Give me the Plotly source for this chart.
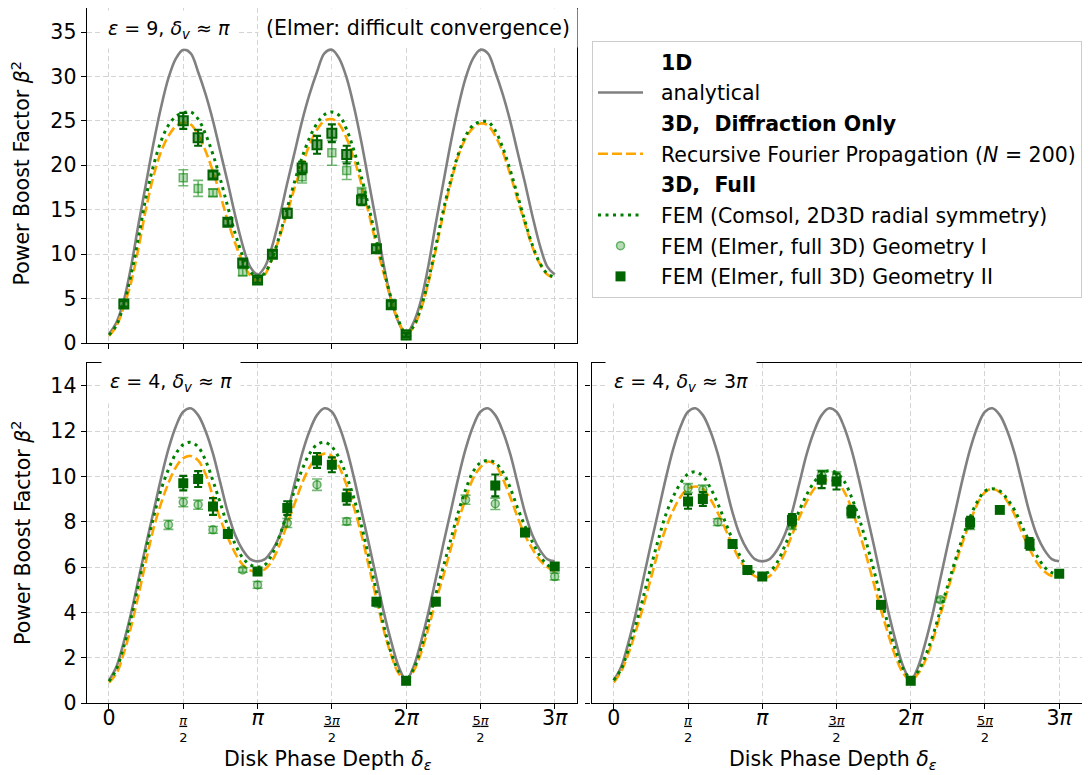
import plotly.graph_objects as go

W, H = 1090, 775
OFF = 8  # default page body margin of the html page

# ---------------- data (x in units of pi) ----------------
DELTA = [0.00, 0.05, 0.10, 0.15, 0.20, 0.25, 0.30, 0.35, 0.40, 0.45,
         0.50, 0.55, 0.60, 0.65, 0.70, 0.75, 0.80, 0.85, 0.90, 0.95,
         1.00, 1.05, 1.10, 1.15, 1.20, 1.25, 1.30, 1.35, 1.40, 1.45,
         1.50, 1.55, 1.60, 1.65, 1.70, 1.75, 1.80, 1.85, 1.90, 1.95,
         2.00, 2.05, 2.10, 2.15, 2.20, 2.25, 2.30, 2.35, 2.40, 2.45,
         2.50, 2.55, 2.60, 2.65, 2.70, 2.75, 2.80, 2.85, 2.90, 2.95, 3.00]

# eps = 9, delta_v ~ pi
GREY_E9 = [1.0, 2.3, 4.8, 8.7, 13.5, 18.0, 22.5, 26.5, 29.8, 32.0,
           33.0, 32.6, 30.5, 28.0, 25.0, 21.5, 18.0, 14.3, 11.0, 8.6,
           7.7, 8.6, 11.0, 14.3, 18.0, 21.5, 25.0, 28.0, 30.5, 32.6,
           33.0, 32.0, 29.8, 26.5, 22.5, 18.0, 13.5, 8.7, 4.8, 2.3,
           1.0, 2.3, 4.8, 8.7, 13.5, 18.0, 22.5, 26.5, 29.8, 32.0,
           33.0, 32.6, 30.5, 28.0, 25.0, 21.5, 18.0, 14.3, 11.0, 8.6, 7.7]
ORANGE_E9 = [0.8, 1.9, 4.1, 6.9, 10.8, 15.2, 18.8, 21.5, 23.3, 24.4,
             24.8, 24.6, 23.4, 21.6, 19.3, 16.6, 13.7, 11.2, 9.1, 7.6,
             7.0, 7.7, 9.6, 12.0, 14.7, 17.5, 20.0, 22.3, 24.0, 25.0,
             25.2, 24.6, 23.0, 20.7, 17.8, 14.5, 11.0, 7.8, 4.8, 2.4,
             1.0, 1.8, 3.8, 6.8, 10.5, 14.5, 18.0, 21.0, 23.0, 24.2,
             24.7, 24.5, 23.3, 21.5, 19.0, 16.2, 13.4, 10.8, 8.9, 7.7, 7.3]
GREEN_E9 = [0.9, 2.0, 4.4, 7.8, 12.0, 16.5, 20.0, 22.7, 24.5, 25.5,
            25.9, 26.0, 25.2, 23.5, 21.2, 18.4, 15.3, 12.3, 9.8, 8.1,
            7.3, 7.9, 9.6, 12.2, 15.2, 18.2, 20.9, 23.1, 24.7, 25.7,
            26.0, 25.6, 24.0, 21.6, 18.6, 15.2, 11.6, 8.2, 5.0, 2.5,
            1.0, 1.9, 4.0, 7.1, 10.9, 14.9, 18.3, 21.2, 23.3, 24.5,
            24.9, 24.9, 23.9, 22.0, 19.5, 16.6, 13.7, 11.0, 9.0, 7.8, 7.4]
E9_G2_X = [0.1, 0.5, 0.6, 0.7, 0.8, 0.9, 1.0, 1.1, 1.2, 1.3, 1.4, 1.5, 1.6, 1.7, 1.8, 1.9, 2.0]
E9_G2_Y = [4.4, 25.0, 23.1, 18.9, 13.6, 9.0, 7.1, 10.0, 14.6, 19.7, 22.3, 23.6, 21.2, 16.1, 10.6, 4.3, 0.9]
E9_G2_E = [0.3, 0.9, 0.9, 0.4, 0.4, 0.4, 0.3, 0.4, 0.5, 0.7, 1.0, 1.0, 1.0, 0.6, 0.4, 0.4, 0.2]
E9_G1_X = [0.5, 0.6, 0.7, 0.9, 1.3, 1.5, 1.6, 1.7, 1.9, 2.0]
E9_G1_Y = [18.6, 17.4, 16.9, 8.0, 18.7, 21.4, 19.4, 16.9, 4.4, 1.0]
E9_G1_E = [0.9, 0.9, 0.4, 0.4, 0.7, 1.4, 1.0, 0.6, 0.4, 0.2]

# eps = 4 (1D analytical identical in both lower panels)
GREY_E4 = [1.0, 1.6, 2.7, 4.0, 5.5, 7.0, 8.45, 9.9, 11.2, 12.2,
           12.85, 13.0, 12.7, 12.0, 11.0, 9.7, 8.4, 7.4, 6.75, 6.35,
           6.25, 6.35, 6.75, 7.4, 8.4, 9.7, 11.0, 12.0, 12.7, 13.0,
           12.85, 12.2, 11.2, 9.9, 8.45, 7.0, 5.5, 4.0, 2.7, 1.6,
           1.0, 1.6, 2.7, 4.0, 5.5, 7.0, 8.45, 9.9, 11.2, 12.2,
           12.85, 13.0, 12.7, 12.0, 11.0, 9.7, 8.4, 7.4, 6.75, 6.35, 6.25]

# eps = 4, delta_v ~ pi
ORANGE_BL = [0.9, 1.3, 2.2, 3.4, 4.8, 6.3, 7.7, 8.8, 9.7, 10.4,
             10.8, 10.9, 10.7, 10.1, 9.1, 8.1, 7.3, 6.6, 6.1, 5.85,
             5.8, 5.9, 6.3, 7.0, 7.9, 8.8, 9.7, 10.4, 10.85, 11.0,
             10.9, 10.4, 9.6, 8.6, 7.4, 6.0, 4.6, 3.2, 2.1, 1.3,
             1.0, 1.4, 2.2, 3.3, 4.5, 5.6, 6.8, 8.0, 9.0, 9.9,
             10.4, 10.65, 10.5, 9.9, 9.1, 8.2, 7.4, 6.8, 6.3, 6.0, 5.8]
GREEN_BL = [0.95, 1.5, 2.5, 3.8, 5.3, 6.8, 8.2, 9.4, 10.3, 11.0,
            11.4, 11.5, 11.3, 10.7, 9.8, 8.8, 7.8, 7.0, 6.4, 6.1,
            6.0, 6.1, 6.6, 7.4, 8.4, 9.4, 10.3, 11.0, 11.4, 11.5,
            11.3, 10.8, 10.0, 9.0, 7.8, 6.4, 4.9, 3.4, 2.2, 1.4,
            1.05, 1.5, 2.4, 3.6, 4.8, 6.0, 7.2, 8.4, 9.4, 10.2,
            10.6, 10.7, 10.6, 10.2, 9.5, 8.6, 7.8, 7.1, 6.5, 6.1, 5.9]
BL_G2_X = [0.5, 0.6, 0.7, 0.8, 1.0, 1.2, 1.4, 1.5, 1.6, 1.8, 2.0, 2.2, 2.6, 2.8, 3.0]
BL_G2_Y = [9.7, 9.88, 8.67, 7.46, 5.8, 8.6, 10.7, 10.51, 9.08, 4.47, 0.98, 4.47, 9.6, 7.52, 6.02]
BL_G2_E = [0.32, 0.35, 0.37, 0.1, 0.15, 0.3, 0.33, 0.33, 0.33, 0.1, 0.05, 0.1, 0.48, 0.15, 0.1]
BL_G1_X = [0.4, 0.5, 0.6, 0.7, 0.9, 1.0, 1.2, 1.4, 1.6, 1.8, 2.4, 2.6, 3.0]
BL_G1_Y = [7.86, 8.86, 8.75, 7.64, 5.87, 5.21, 7.94, 9.63, 8.01, 4.4, 8.97, 8.79, 5.58]
BL_G1_E = [0.2, 0.2, 0.2, 0.15, 0.1, 0.15, 0.2, 0.25, 0.15, 0.1, 0.2, 0.25, 0.15]

# eps = 4, delta_v ~ 3 pi
ORANGE_BR = [0.9, 1.4, 2.2, 3.2, 4.3, 5.5, 6.7, 7.7, 8.5, 9.1,
             9.45, 9.55, 9.45, 9.0, 8.4, 7.7, 6.95, 6.3, 5.85, 5.6,
             5.5, 5.6, 6.0, 6.6, 7.4, 8.2, 8.9, 9.45, 9.75, 9.85,
             9.75, 9.35, 8.6, 7.6, 6.5, 5.3, 4.1, 3.0, 2.0, 1.3,
             1.0, 1.3, 1.9, 2.8, 3.9, 5.0, 6.1, 7.1, 8.0, 8.8,
             9.3, 9.45, 9.3, 8.9, 8.3, 7.5, 6.8, 6.2, 5.8, 5.6, 5.6]
GREEN_BR = [1.0, 1.5, 2.4, 3.5, 4.7, 6.0, 7.2, 8.3, 9.1, 9.7,
            10.1, 10.2, 10.0, 9.5, 8.8, 8.0, 7.2, 6.5, 6.0, 5.75,
            5.7, 5.8, 6.2, 6.9, 7.7, 8.5, 9.2, 9.75, 10.1, 10.25,
            10.15, 9.8, 9.1, 8.2, 7.1, 5.9, 4.6, 3.4, 2.3, 1.5,
            1.1, 1.4, 2.1, 3.0, 4.1, 5.2, 6.3, 7.3, 8.2, 8.9,
            9.35, 9.45, 9.35, 9.0, 8.5, 7.8, 7.1, 6.5, 6.0, 5.75, 5.65]
BR_G2_X = [0.5, 0.6, 0.8, 0.9, 1.0, 1.2, 1.4, 1.5, 1.6, 1.8, 2.0, 2.4, 2.6, 2.8, 3.0]
BR_G2_Y = [8.89, 9.0, 7.01, 5.87, 5.58, 8.08, 9.85, 9.77, 8.45, 4.33, 0.98, 7.96, 8.52, 7.02, 5.70]
BR_G2_E = [0.32, 0.3, 0.1, 0.1, 0.1, 0.25, 0.37, 0.35, 0.25, 0.1, 0.05, 0.25, 0.05, 0.25, 0.1]
BR_G1_X = [0.5, 0.6, 0.7, 0.9, 1.2, 1.4, 1.5, 1.6, 1.8, 2.2, 2.4, 2.8]
BR_G1_Y = [9.48, 9.41, 7.98, 5.85, 7.86, 10.07, 10.0, 8.38, 4.33, 4.55, 7.86, 7.03]
BR_G1_E = [0.2, 0.2, 0.15, 0.1, 0.2, 0.2, 0.2, 0.2, 0.15, 0.1, 0.2, 0.2]

X_TICKS = [0, 0.5, 1, 1.5, 2, 2.5, 3]
X_TICK_LABELS = ["0", "π/2", "π", "3π/2", "2π", "5π/2", "3π"]
Y_TICKS_TOP = [0, 5, 10, 15, 20, 25, 30, 35]
Y_TICKS_BOT = [0, 2, 4, 6, 8, 10, 12, 14]

PAD = "\u00a0\u00a0"
LEGEND_NAMES = {
    "h1": PAD + "<b>1D</b>",
    "grey": PAD + "analytical",
    "h2": PAD + "<b>3D,\u00a0 Diffraction Only</b>",
    "orange": PAD + "Recursive Fourier Propagation (<i>N</i> = 200)",
    "h3": PAD + "<b>3D,\u00a0 Full</b>",
    "green": PAD + "FEM (Comsol, 2D3D radial symmetry)",
    "g1": PAD + "FEM (Elmer, full 3D) Geometry I",
    "g2": PAD + "FEM (Elmer, full 3D) Geometry II",
}
PANEL_LABELS = ["<i>ε</i> = 9, <i>δ</i><sub><i>v</i></sub> ≈ <i>π</i>",
                "<i>ε</i> = 4, <i>δ</i><sub><i>v</i></sub> ≈ <i>π</i>",
                "<i>ε</i> = 4, <i>δ</i><sub><i>v</i></sub> ≈ 3<i>π</i>"]
NOTE = "(Elmer: difficult convergence)"
Y_TITLE = "Power Boost Factor <i>β</i><sup>2</sup>"
X_TITLE = "Disk Phase Depth <i>δ</i><sub><i>ε</i></sub>"

# ---------------- styling ----------------
FONT = "DejaVu Sans"
FS = 20.5
FS_FRAC = 13
GREY = "#808080"
ORANGE = "#FFA500"
GREEN = "#008000"
DKGREEN = "#006400"
LT_FILL = "rgba(0,128,0,0.28)"
LT_LINE = "rgba(0,128,0,0.55)"


def fx(p):
    return min(1.0, max(0.0, (p - OFF) / W))


def fy(p):
    return min(1.0, max(0.0, 1 - (p - OFF) / H))


def italic_pi(s):
    return s.replace("π", "<i>π</i>")


def tick_html(lbl):
    if "/" in lbl:
        num, den = lbl.split("/")
        return "<u>%s</u><br>%s" % (italic_pi(num), den)
    return "<span style='font-size:%spx'>%s</span>" % (FS, italic_pi(lbl))


fig = go.Figure()

panels = [
    dict(xa="x", ya="y", grey=GREY_E9, orange=ORANGE_E9, green=GREEN_E9,
         g1=(E9_G1_X, E9_G1_Y, E9_G1_E), g2=(E9_G2_X, E9_G2_Y, E9_G2_E), g1sym="square", top=True),
    dict(xa="x2", ya="y2", grey=GREY_E4, orange=ORANGE_BL, green=GREEN_BL,
         g1=(BL_G1_X, BL_G1_Y, BL_G1_E), g2=(BL_G2_X, BL_G2_Y, BL_G2_E), g1sym="circle", top=False),
    dict(xa="x3", ya="y3", grey=GREY_E4, orange=ORANGE_BR, green=GREEN_BR,
         g1=(BR_G1_X, BR_G1_Y, BR_G1_E), g2=(BR_G2_X, BR_G2_Y, BR_G2_E), g1sym="circle", top=False),
]

# legend headers (no glyph)
for key, rank in (("h1", 1), ("h2", 3), ("h3", 5)):
    fig.add_trace(go.Scatter(x=[None], y=[None], mode="lines", name=LEGEND_NAMES[key],
                             line=dict(color="rgba(0,0,0,0)", width=1),
                             legendgroup=key, legendrank=rank, showlegend=True,
                             xaxis="x", yaxis="y", hoverinfo="skip"))

for i, p in enumerate(panels):
    sl_line = (i == 0)
    sl_pts = (i == 1)
    fig.add_trace(go.Scatter(x=DELTA, y=p["grey"], mode="lines", line=dict(color=GREY, width=2.6, shape="spline"),
                             name=LEGEND_NAMES["grey"], legendgroup="grey", legendrank=2, showlegend=sl_line,
                             xaxis=p["xa"], yaxis=p["ya"]))
    fig.add_trace(go.Scatter(x=DELTA, y=p["orange"], mode="lines",
                             line=dict(color=ORANGE, width=2.6, dash="10px,4px", shape="spline"),
                             name=LEGEND_NAMES["orange"], legendgroup="orange", legendrank=4, showlegend=sl_line,
                             xaxis=p["xa"], yaxis=p["ya"]))
    fig.add_trace(go.Scatter(x=DELTA, y=p["green"], mode="lines",
                             line=dict(color=GREEN, width=3, dash="3px,4.5px", shape="spline"),
                             name=LEGEND_NAMES["green"], legendgroup="green", legendrank=6, showlegend=sl_line,
                             xaxis=p["xa"], yaxis=p["ya"]))
    gx, gy, ge = p["g1"]
    fig.add_trace(go.Scatter(x=gx, y=gy, mode="markers",
                             marker=dict(symbol=p["g1sym"], size=8, color=LT_FILL, line=dict(color=LT_LINE, width=1.5)),
                             error_y=dict(type="data", array=ge, color=LT_LINE, thickness=1.6, width=5),
                             name=LEGEND_NAMES["g1"], legendgroup="g1", legendrank=7, showlegend=sl_pts,
                             xaxis=p["xa"], yaxis=p["ya"]))
    gx, gy, ge = p["g2"]
    if p["top"]:
        mk = dict(symbol="square", size=9, color="rgba(0,100,0,0.55)", line=dict(color=DKGREEN, width=2))
    else:
        mk = dict(symbol="square", size=10, color=DKGREEN, line=dict(color=DKGREEN, width=0))
    fig.add_trace(go.Scatter(x=gx, y=gy, mode="markers", marker=mk,
                             error_y=dict(type="data", array=ge, color=DKGREEN, thickness=2.2, width=4),
                             name=LEGEND_NAMES["g2"], legendgroup="g2", legendrank=8, showlegend=sl_pts,
                             xaxis=p["xa"], yaxis=p["ya"]))

# ---------------- axes ----------------
XL, XR = 86.7, 577.0
XL3, XR3 = 591.5, 1081.5
YT_TOP, YB_TOP = 4.0, 343.0
YT_BOT, YB_BOT = 363.0, 703.0
PX_PER_UNIT_TOP = (343.0 - 32.0) / 35.0
TOP_YMAX = (YB_TOP - max(YT_TOP, OFF)) / PX_PER_UNIT_TOP

common = dict(showline=True, linecolor="black", linewidth=1.3, mirror=True,
              ticks="outside", ticklen=5, tickwidth=1.2, tickcolor="black",
              showgrid=True, gridcolor="#d4d4d4", gridwidth=1, griddash="5px,3px",
              zeroline=False, tickfont=dict(family=FONT, size=FS, color="black"))

xcommon = dict(common, range=[-0.15, 3.15], tickmode="array", tickvals=X_TICKS,
               ticktext=[tick_html(t) for t in X_TICK_LABELS])
xcommon["tickfont"] = dict(family=FONT, size=FS_FRAC, color="black")

fig.update_layout(
    xaxis=dict(xcommon, domain=[fx(XL), fx(XR)], anchor="y", showticklabels=False),
    xaxis2=dict(xcommon, domain=[fx(XL), fx(XR)], anchor="y2"),
    xaxis3=dict(xcommon, domain=[fx(XL3), fx(XR3)], anchor="y3"),
    yaxis=dict(common, domain=[fy(YB_TOP), fy(YT_TOP)], anchor="x", range=[0, TOP_YMAX],
               tickmode="array", tickvals=Y_TICKS_TOP),
    yaxis2=dict(common, domain=[fy(YB_BOT), fy(YT_BOT)], anchor="x2", range=[0, 15.0],
                tickmode="array", tickvals=Y_TICKS_BOT),
    yaxis3=dict(common, domain=[fy(YB_BOT), fy(YT_BOT)], anchor="x3", range=[0, 15.0],
                tickmode="array", tickvals=Y_TICKS_BOT, showticklabels=False),
)

# ---------------- annotations ----------------
ann = []
label_boxes = [(101, 9.5, 6), (101, 361, 8), (605, 361, 8)]
for txt, (bx, by, bp) in zip(PANEL_LABELS, label_boxes):
    ann.append(dict(text=txt, xref="paper", yref="paper", x=fx(bx), y=fy(by),
                    xanchor="left", yanchor="top", showarrow=False, bgcolor="white",
                    borderpad=bp, font=dict(family=FONT, size=19, color="black")))
ann.append(dict(text=NOTE, xref="paper", yref="paper", x=fx(258), y=fy(8),
                xanchor="left", yanchor="top", showarrow=False, bgcolor="white",
                borderpad=7, font=dict(family=FONT, size=FS, color="black")))
for yc in ((YT_TOP + YB_TOP) / 2, (YT_BOT + YB_BOT) / 2):
    ann.append(dict(text=Y_TITLE, xref="paper", yref="paper", x=fx(21), y=fy(yc),
                    xanchor="center", yanchor="middle", textangle=-90, showarrow=False,
                    font=dict(family=FONT, size=FS, color="black")))
for xc in ((XL + XR) / 2, (XL3 + XR3) / 2):
    ann.append(dict(text=X_TITLE, xref="paper", yref="paper", x=fx(xc - 4), y=fy(760),
                    xanchor="center", yanchor="middle", showarrow=False,
                    font=dict(family=FONT, size=FS, color="black")))

fig.update_layout(
    width=W, height=H,
    margin=dict(l=0, r=0, t=0, b=0, autoexpand=False),
    paper_bgcolor="white", plot_bgcolor="white",
    font=dict(family=FONT, size=FS, color="black"),
    annotations=ann,
    showlegend=True,
    legend=dict(x=fx(592), y=fy(41), xanchor="left", yanchor="top",
                bgcolor="rgba(255,255,255,0.85)", bordercolor="#cccccc", borderwidth=1,
                font=dict(family=FONT, size=FS, color="black"),
                tracegroupgap=1, itemwidth=45, traceorder="grouped"),
)

fig.write_html("out.html")
